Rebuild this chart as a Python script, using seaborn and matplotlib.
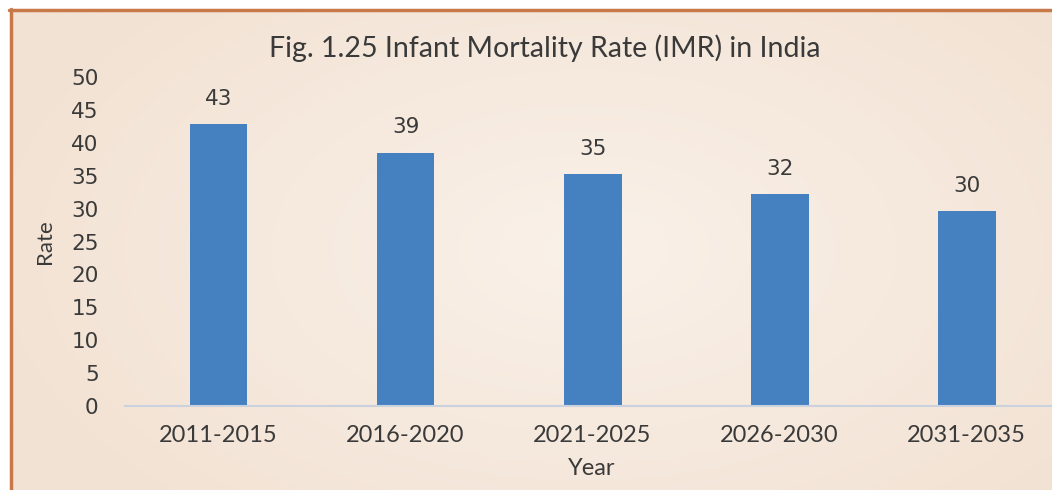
import numpy as np
import matplotlib
matplotlib.use("Agg")
import matplotlib.pyplot as plt
from matplotlib.lines import Line2D
import seaborn as sns

# data
periods = ["2011-2015", "2016-2020", "2021-2025", "2026-2030", "2031-2035"]
imr = [42.8, 38.5, 35.2, 32.2, 29.6]
imr_labels = ["43", "39", "35", "32", "30"]
y_ticks = [0, 5, 10, 15, 20, 25, 30, 35, 40, 45, 50]

BAR = "#4580c0"
TEXT = "#3a3a3a"
BORDER = "#c8794a"

sns.set_theme(style="white")
plt.rcParams["font.family"] = ["Lato", "DejaVu Sans"]

W, H = 1052, 490
fig = plt.figure(figsize=(W / 100, H / 100), dpi=100, facecolor="white")

# peach radial background of the chart area
bg = fig.add_axes([10 / W, 0, 1 - 10 / W, 1 - 10 / H])
gh, gw = 240, 520
yy, xx = np.mgrid[0:gh, 0:gw]
r = np.sqrt(((xx - 0.55 * gw) / (gw * 0.6)) ** 2 + ((yy - 0.5 * gh) / (gh * 0.75)) ** 2)
r = np.clip(r, 0, 1)
inner = np.array([250, 241, 233]) / 255
outer = np.array([242, 226, 211]) / 255
img = inner + (outer - inner) * r[..., None]
bg.imshow(img, aspect="auto", extent=[0, 1, 0, 1], interpolation="bilinear")
bg.set_xlim(0, 1)
bg.set_ylim(0, 1)
bg.axis("off")

fig.add_artist(Line2D([9 / W, 1], [1 - 10.5 / H] * 2, color=BORDER, lw=2.5))
fig.add_artist(Line2D([10.5 / W] * 2, [0, 1 - 9 / H], color=BORDER, lw=2.5))

ax = fig.add_axes([125 / W, 84 / H, (W - 125) / W, 329 / H])
ax.set_facecolor("none")
sns.barplot(x=periods, y=imr, color=BAR, saturation=1, width=0.31,
            linewidth=0, ax=ax)
ax.set_ylim(0, 50)
ax.set_xlim(-0.5, 4.457)
ax.set_yticks(y_ticks)
ax.set_yticklabels([str(t) for t in y_ticks], family="DejaVu Sans", fontsize=15.5, color=TEXT)
ax.set_xticks(range(len(periods)))
ax.set_xticklabels(periods, fontsize=17, color=TEXT)
ax.tick_params(axis="y", length=0, pad=19)
ax.tick_params(axis="x", length=0, pad=14)
for side in ["top", "right", "left"]:
    ax.spines[side].set_visible(False)
ax.spines["bottom"].set_color("#c9d2de")
ax.spines["bottom"].set_linewidth(1.5)
ax.set_xlabel("")
ax.set_ylabel("")

ax.bar_label(ax.containers[0], labels=imr_labels, padding=11,
             family="DejaVu Sans", fontsize=15.5, color=TEXT)

fig.text(545 / W, 1 - 48 / H, "Fig. 1.25 Infant Mortality Rate (IMR) in India",
         ha="center", va="center", fontsize=20.5, color=TEXT)
fig.text(45 / W, 1 - 242 / H, "Rate", rotation=90, ha="center", va="center",
         fontsize=16, color=TEXT)
fig.text(592 / W, 1 - 468 / H, "Year", ha="center", va="center",
         fontsize=17, color=TEXT)

fig.savefig("out.png", dpi=100)
